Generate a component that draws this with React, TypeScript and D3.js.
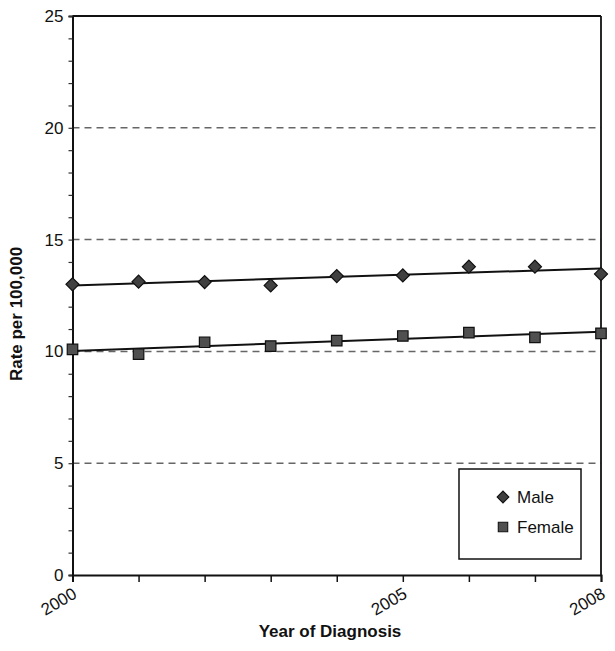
import React, { useEffect, useRef } from 'react';
import * as d3 from 'd3';

const years = [2000, 2001, 2002, 2003, 2004, 2005, 2006, 2007, 2008];
const maleRates = [13.0, 13.12, 13.1, 12.95, 13.37, 13.4, 13.79, 13.79, 13.46];
const femaleRates = [10.09, 9.88, 10.41, 10.24, 10.48, 10.69, 10.84, 10.63, 10.81];
const yTicks = [0, 5, 10, 15, 20, 25];
const xLabelYears = [2000, 2005, 2008];

// least squares fit for the trend lines
const fit = (xs: number[], ys: number[]) => {
  const mx = d3.mean(xs) as number;
  const my = d3.mean(ys) as number;
  const slope = d3.sum(xs, (x, i) => (x - mx) * (ys[i] - my)) / d3.sum(xs, x => (x - mx) ** 2);
  return (x: number) => my + slope * (x - mx);
};

const App = () => {
  const svgRef = useRef<SVGSVGElement>(null);

  useEffect(() => {
    const margin = { top: 16, right: 14, bottom: 76, left: 72.5 };
    const W = 615, H = 651;
    const width = W - margin.left - margin.right;
    const height = H - margin.top - margin.bottom;
    const font = '"Liberation Sans", Arial, Helvetica, sans-serif';

    const root = d3.select(svgRef.current).attr('width', W).attr('height', H);
    root.selectAll('*').remove();
    const svg = root.append('g').attr('transform', `translate(${margin.left},${margin.top})`);

    const x = d3.scaleLinear().domain([2000, 2008]).range([0, width]);
    const y = d3.scaleLinear().domain([0, 25]).range([height, 0]);

    // dashed grid
    svg.selectAll('.grid')
      .data(yTicks.filter(t => t > 0 && t < 25))
      .enter()
      .append('line')
      .attr('x1', 0).attr('x2', width)
      .attr('y1', d => y(d)).attr('y2', d => y(d))
      .attr('stroke', '#666')
      .attr('stroke-width', 1.5)
      .attr('stroke-dasharray', '7,5');

    // frame top + right
    svg.append('line').attr('x1', 0).attr('x2', width).attr('y1', 0).attr('y2', 0)
      .attr('stroke', '#111').attr('stroke-width', 1.8);
    svg.append('line').attr('x1', width).attr('x2', width).attr('y1', 0).attr('y2', height)
      .attr('stroke', '#111').attr('stroke-width', 1.8);

    // y axis
    const yAxis = svg.append('g')
      .call(d3.axisLeft(y).tickValues(d3.range(0, 26, 1)).tickSize(4)
        .tickFormat(d => (yTicks.includes(+d) ? String(d) : '')));
    yAxis.select('.domain').attr('stroke', '#111').attr('stroke-width', 2);
    yAxis.selectAll('.tick line').attr('stroke', '#333').attr('stroke-width', 1.2);
    yAxis.selectAll('.tick text')
      .style('font-family', font).style('font-size', '17px')
      .attr('fill', '#111').attr('x', -9);

    // x axis
    const xAxis = svg.append('g')
      .attr('transform', `translate(0,${height})`)
      .call(d3.axisBottom(x).tickValues(years).tickSize(7)
        .tickFormat(d => (xLabelYears.includes(+d) ? String(d) : '')));
    xAxis.select('.domain').attr('stroke', '#111').attr('stroke-width', 2);
    xAxis.selectAll('.tick line').attr('stroke', '#111').attr('stroke-width', 1.5);
    xAxis.selectAll('.tick text')
      .style('font-family', font).style('font-size', '17px')
      .attr('fill', '#111')
      .attr('text-anchor', 'end')
      .attr('dy', null).attr('y', null)
      .attr('transform', 'translate(5,22) rotate(-30)');

    // trend lines + markers
    const diamond = d3.symbol().type(d3.symbolSquare).size(85)();
    const square = d3.symbol().type(d3.symbolSquare).size(110)();
    const series = [
      { name: 'Male', values: maleRates, path: diamond, rot: 45, fill: '#404040' },
      { name: 'Female', values: femaleRates, path: square, rot: 0, fill: '#505050' },
    ];

    series.forEach(s => {
      const f = fit(years, s.values);
      svg.append('line')
        .attr('x1', x(2000)).attr('x2', x(2008))
        .attr('y1', y(f(2000))).attr('y2', y(f(2008)))
        .attr('stroke', '#111').attr('stroke-width', 2);
      svg.selectAll(null)
        .data(s.values)
        .enter()
        .append('path')
        .attr('d', s.path)
        .attr('transform', (d, i) => `translate(${x(years[i])},${y(d)}) rotate(${s.rot})`)
        .attr('fill', s.fill)
        .attr('stroke', '#111')
        .attr('stroke-width', 1.2);
    });

    // legend
    const lg = root.append('g').attr('transform', 'translate(459,469)');
    lg.append('rect').attr('width', 122).attr('height', 90)
      .attr('fill', 'white').attr('stroke', '#111').attr('stroke-width', 1.5);
    series.forEach((s, i) => {
      lg.append('path')
        .attr('d', s.path)
        .attr('transform', `translate(44,${28 + i * 30}) rotate(${s.rot}) scale(0.9)`)
        .attr('fill', s.fill).attr('stroke', '#111').attr('stroke-width', 1.2);
      lg.append('text')
        .attr('x', 58).attr('y', 28 + i * 30).attr('dy', '0.36em')
        .style('font-family', font).style('font-size', '17px').attr('fill', '#111')
        .text(s.name);
    });

    // axis titles
    root.append('text')
      .attr('x', 330).attr('y', 637)
      .attr('text-anchor', 'middle')
      .style('font-family', font).style('font-size', '17px').style('font-weight', 'bold').attr('fill', '#111')
      .text('Year of Diagnosis');
    root.append('text')
      .attr('transform', `translate(22,314) rotate(-90)`)
      .attr('text-anchor', 'middle')
      .style('font-family', font).style('font-size', '17px').style('font-weight', 'bold').attr('fill', '#111')
      .text('Rate per 100,000');
  }, []);

  return <svg ref={svgRef} style={{ position: 'absolute', left: 0, top: 0, background: 'white' }}></svg>;
};

export default App;
